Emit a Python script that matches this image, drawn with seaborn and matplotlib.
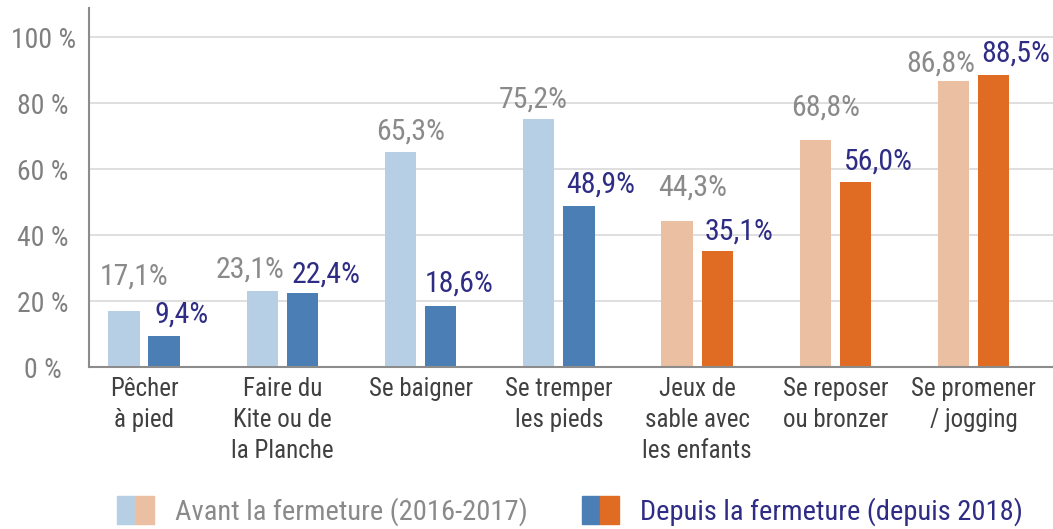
import matplotlib
matplotlib.use("Agg")
import matplotlib.pyplot as plt
from matplotlib import font_manager as fm
from matplotlib.legend_handler import HandlerTuple
from matplotlib.patches import Patch
import seaborn as sns
import pandas as pd

# Activities and shares of respondents (%)
activities = [
    "Pêcher\nà pied",
    "Faire du\nKite ou de\nla Planche",
    "Se baigner",
    "Se tremper\nles pieds",
    "Jeux de\nsable avec\nles enfants",
    "Se reposer\nou bronzer",
    "Se promener\n/ jogging",
]
avant = [17.1, 23.1, 65.3, 75.2, 44.3, 68.8, 86.8]
depuis = [9.4, 22.4, 18.6, 48.9, 35.1, 56.0, 88.5]
periods = ["Avant la fermeture (2016-2017)", "Depuis la fermeture (depuis 2018)"]
y_ticks = [0, 20, 40, 60, 80, 100]

# Water activities in blue, beach activities in orange
light_cols = ["#B7CFE5"] * 4 + ["#EBC0A2"] * 3
dark_cols = ["#4A7EB4"] * 4 + ["#E06C24"] * 3
grey_txt = "#8A8A8A"
navy_txt = "#2E2C84"

# Label nudges (pixels: right, above bar top) to keep neighbouring labels apart
avant_dx = [10, -12, 10, -6, 16, 10, -13]
avant_dy = [26, 13, 12, 11, 25, 24, 9]
depuis_dx = [18, 24, 18, 22, 22, 23, 22]
depuis_dy = [13, 10, 14, 13, 12, 13, 13]

df = pd.DataFrame({
    "activite": activities * 2,
    "periode": [periods[0]] * len(avant) + [periods[1]] * len(depuis),
    "valeur": avant + depuis,
})

sns.set_theme(style="white")

# Prefer a narrow sans-serif face; fall back to a regular one at smaller size
narrow = None
prefs = ["Liberation Sans Narrow", "Arial Narrow", "Roboto Condensed",
         "Open Sans Condensed", "DejaVu Sans Condensed", "Noto Sans Condensed"]
fonts = fm.fontManager.ttflist
for want in prefs:
    hit = [f for f in fonts if f.name == want]
    if hit:
        narrow = (hit[0].name, hit[0].stretch)
        break
if narrow is None:
    hit = [f for f in fonts
           if ("condensed" in str(f.stretch).lower() or "narrow" in f.fname.lower()
               or "condensed" in f.fname.lower())
           and "italic" not in f.fname.lower() and "bold" not in f.fname.lower()
           and "mono" not in f.fname.lower() and "serif" not in f.fname.lower().replace("sans", "")]
    if hit:
        narrow = (hit[0].name, hit[0].stretch)

if narrow is not None:
    plt.rcParams["font.family"] = [narrow[0], "DejaVu Sans"]
    plt.rcParams["font.stretch"] = narrow[1]
    k = 1.0
else:
    plt.rcParams["font.family"] = ["Liberation Sans", "DejaVu Sans"]
    k = 0.86

W, H = 1053, 529
fig = plt.figure(figsize=(W / 100, H / 100), dpi=100)
ax = fig.add_axes([89 / W, 162 / H, (W - 89) / W, (367 - 8) / H])

sns.barplot(data=df, x="activite", y="valeur", hue="periode", order=activities,
            hue_order=periods, width=0.58, gap=0.22, ax=ax, legend=False,
            errorbar=None, saturation=1, linewidth=0)

for bar, col in zip(ax.containers[0], light_cols):
    bar.set_facecolor(col)
for bar, col in zip(ax.containers[1], dark_cols):
    bar.set_facecolor(col)

px = 72 / 100  # pixels -> points
for cont, vals, dxs, dys, col in [
    (ax.containers[0], avant, avant_dx, avant_dy, grey_txt),
    (ax.containers[1], depuis, depuis_dx, depuis_dy, navy_txt),
]:
    for bar, v, dx, dy in zip(cont, vals, dxs, dys):
        xc = bar.get_x() + bar.get_width() / 2
        ax.annotate(f"{v:.1f}%".replace(".", ","), xy=(xc, v),
                    xytext=(dx * px, dy * px), textcoords="offset points",
                    ha="center", va="baseline", fontsize=21.5 * k, color=col)

ax.set_xlim(-0.398, 6.573)
ax.set_ylim(0, 108.8)
ax.set_yticks(y_ticks)
ax.set_yticklabels([f"{t} %" for t in y_ticks])
ax.set_xlabel("")
ax.set_ylabel("")

ax.yaxis.grid(True, color="#D9D9D9", linewidth=1.2)
ax.set_axisbelow(True)
for s in ["top", "right"]:
    ax.spines[s].set_visible(False)
for s in ["left", "bottom"]:
    ax.spines[s].set_color("#8C8C8C")
    ax.spines[s].set_linewidth(1.5)

ax.tick_params(axis="y", length=0, pad=33, labelsize=20 * k, labelcolor="#7F7F7F")
for lab in ax.get_yticklabels():
    lab.set_horizontalalignment("center")
ax.tick_params(axis="x", length=0, pad=7, labelsize=18 * k, labelcolor="#404040")
for lab in ax.get_xticklabels():
    lab.set_verticalalignment("top")
    lab.set_linespacing(1.38)

handles = [
    (Patch(color=light_cols[0]), Patch(color=light_cols[-1])),
    (Patch(color=dark_cols[0]), Patch(color=dark_cols[-1])),
]
lfs = 20.5 * k
leg = fig.legend(handles, periods, handler_map={tuple: HandlerTuple(ndivide=None, pad=0)},
                 loc="center", bbox_to_anchor=(0.541, 0.034), ncol=2, frameon=False,
                 fontsize=lfs, handlelength=1.3 / k, handleheight=1.16 / k,
                 handletextpad=0.74 / k, columnspacing=1.9 / k)
leg.get_texts()[0].set_color(grey_txt)
leg.get_texts()[1].set_color(navy_txt)

fig.savefig("out.png", dpi=100)
